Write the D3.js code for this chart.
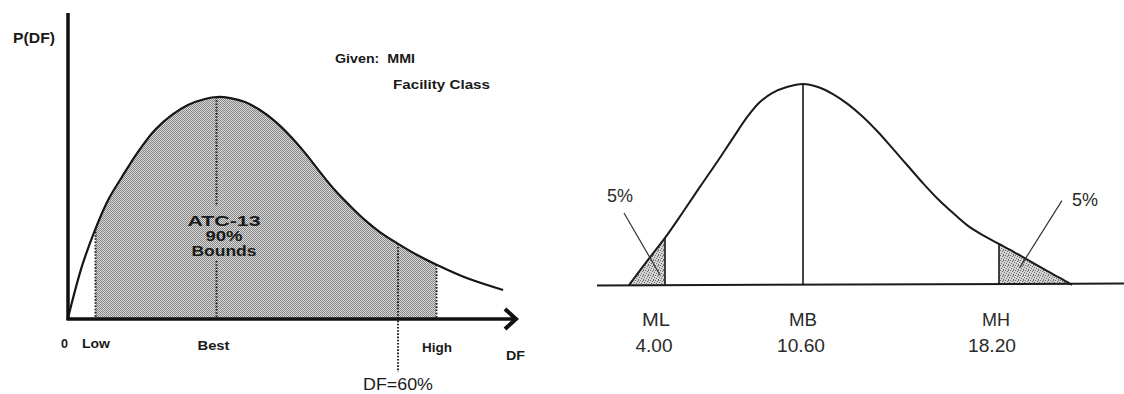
<!DOCTYPE html>
<html><head><meta charset="utf-8">
<script src="https://cdn.jsdelivr.net/npm/d3@7"></script>
<style>html,body{margin:0;padding:0;background:#fff;}svg{display:block;}</style>
</head><body>
<svg id="chart" width="1124" height="394"></svg>
<script>
// ---------- Left panel data: ATC-13 damage-factor density (schematic) ----------
const leftDF = [0, 2.5, 4.9, 7.3, 9.8, 12.7, 15.8, 18.9, 21.8, 24.9, 27.1, 29.5, 32.2, 34.9, 37.6, 40.4, 43.1, 45.8, 48.5, 51.3, 54.0, 56.7, 59.8, 63.5, 67.1, 72.5, 79.1];
const leftP  = [0, 0.231, 0.398, 0.534, 0.638, 0.751, 0.851, 0.919, 0.964, 0.991, 1.0, 0.995, 0.977, 0.941, 0.891, 0.824, 0.747, 0.661, 0.579, 0.507, 0.443, 0.389, 0.339, 0.285, 0.240, 0.181, 0.127];
const leftMarks = [
  {key: "low",  df: 5,  label: "Low"},
  {key: "best", df: 27, label: "Best"},
  {key: "df60", df: 60, label: "DF=60%"},
  {key: "high", df: 67, label: "High"}
];
const leftCenterText = ["ATC-13", "90%", "Bounds"];
const leftGiven = ["Given:  MMI", "Facility Class"];

// ---------- Right panel data: schematic density with 5% tails ----------
const rightM = [2.28, 3.14, 4.0, 4.86, 5.67, 6.49, 7.25, 7.97, 8.54, 9.12, 9.83, 10.6, 11.18, 11.76, 12.34, 12.93, 13.51, 14.09, 14.67, 15.25, 15.83, 16.42, 17.0, 17.62, 18.2, 18.78, 19.40, 20.06, 20.56, 21.03];
const rightP = [0, 0.119, 0.234, 0.363, 0.488, 0.612, 0.731, 0.841, 0.910, 0.955, 0.985, 1.0, 0.985, 0.950, 0.900, 0.836, 0.761, 0.677, 0.592, 0.507, 0.428, 0.358, 0.294, 0.244, 0.204, 0.164, 0.119, 0.070, 0.035, 0.0];
const rightMarks = [
  {name: "ML", value: 4.00, text: "4.00"},
  {name: "MB", value: 10.60, text: "10.60"},
  {name: "MH", value: 18.20, text: "18.20"}
];
const tailPct = ["5%", "5%"];

// ---------- setup ----------
const svg = d3.select("#chart");
const defs = svg.append("defs");

const pat1 = defs.append("pattern").attr("id", "stipple").attr("patternUnits", "userSpaceOnUse")
  .attr("width", 2).attr("height", 2);
pat1.append("rect").attr("width", 2).attr("height", 2).attr("fill", "#dadada");
pat1.append("rect").attr("width", 1).attr("height", 1).attr("fill", "#858585");
pat1.append("rect").attr("x", 1).attr("y", 1).attr("width", 1).attr("height", 1).attr("fill", "#858585");

const pat2 = defs.append("pattern").attr("id", "speckle").attr("patternUnits", "userSpaceOnUse")
  .attr("width", 5).attr("height", 5);
pat2.append("rect").attr("width", 5).attr("height", 5).attr("fill", "#d4d4d4");
[[0,0],[2,1],[4,2],[1,3],[3,4],[3,0]].forEach(([x,y]) =>
  pat2.append("rect").attr("x", x).attr("y", y).attr("width", 1).attr("height", 1).attr("fill", "#6e6e6e"));

function yAtX(pathNode, x) {
  const L = pathNode.getTotalLength();
  let lo = 0, hi = L;
  for (let i = 0; i < 40; i++) {
    const mid = (lo + hi) / 2;
    if (pathNode.getPointAtLength(mid).x < x) lo = mid; else hi = mid;
  }
  return pathNode.getPointAtLength((lo + hi) / 2).y;
}

const FONT = "'Liberation Sans', Arial, Helvetica, sans-serif";
const INK = "#1a1a1a";

// ================= LEFT PANEL =================
const xL = d3.scaleLinear().domain([0, 60]).range([68, 398]);
const yL = d3.scaleLinear().domain([0, 1]).range([318, 97]);
const leftData = leftDF.map((d, i) => ({x: d, y: leftP[i]}));
const gL = svg.append("g");
const curveType = d3.curveCatmullRom.alpha(0.5);

const lineL = d3.line().x(d => xL(d.x)).y(d => yL(d.y)).curve(curveType);
const areaL = d3.area().x(d => xL(d.x)).y0(yL(0)).y1(d => yL(d.y)).curve(curveType);

const low = leftMarks.find(m => m.key === "low").df;
const high = leftMarks.find(m => m.key === "high").df;
defs.append("clipPath").attr("id", "boundsClip").append("rect")
  .attr("x", xL(low)).attr("y", 0).attr("width", xL(high) - xL(low)).attr("height", yL(0));
gL.append("path").datum(leftData).attr("d", areaL).attr("fill", "url(#stipple)")
  .attr("clip-path", "url(#boundsClip)");

const curveL = gL.append("path").datum(leftData).attr("d", lineL)
  .attr("fill", "none").attr("stroke", "#151515").attr("stroke-width", 2.2);

function dotted(x, y1, y2) {
  gL.append("line").attr("x1", x).attr("x2", x).attr("y1", y1).attr("y2", y2)
    .attr("stroke", "#222").attr("stroke-width", 2).attr("stroke-dasharray", "1.6,1.6");
}
leftMarks.forEach(m => {
  const x = xL(m.df);
  const yTop = yAtX(curveL.node(), x);
  if (m.key === "best") { dotted(x, yTop, 206); dotted(x, 261, yL(0)); }
  else if (m.key === "df60") dotted(x, yTop, 372);
  else dotted(x, yTop, yL(0));
});

// axes
gL.append("line").attr("x1", xL(0)).attr("x2", xL(0)).attr("y1", 13).attr("y2", yL(0) + 2)
  .attr("stroke", "#111").attr("stroke-width", 3.5);
gL.append("line").attr("x1", xL(0) - 1.5).attr("x2", 515).attr("y1", yL(0) + 1).attr("y2", yL(0) + 1)
  .attr("stroke", "#111").attr("stroke-width", 3.5);
gL.append("path").attr("d", `M505,309 L516,${yL(0) + 1} L505,329`)
  .attr("fill", "none").attr("stroke", "#111").attr("stroke-width", 4);

function btext(x, y, t, size, len, anchor) {
  const el = gL.append("text").attr("x", x).attr("y", y).text(t)
    .attr("font-family", FONT).attr("font-weight", "bold").attr("font-size", size)
    .attr("fill", INK).style("white-space", "pre");
  if (anchor) el.attr("text-anchor", anchor);
  if (len) el.attr("textLength", len).attr("lengthAdjust", "spacingAndGlyphs");
  return el;
}
btext(13, 43, "P(DF)", 14, 42);
btext(335, 63, leftGiven[0], 12, 80);
btext(393, 89, leftGiven[1], 12, 97);

[{t: leftCenterText[0], y: 226, w: 73}, {t: leftCenterText[1], y: 241, w: 37}, {t: leftCenterText[2], y: 256, w: 65}]
  .forEach(c => btext(224, c.y, c.t, 14, c.w, "middle"));

btext(61, 348, "0", 12.5, 7);
btext(82, 348, leftMarks[0].label, 12.5, 28);
btext(xL(leftMarks[1].df) - 19, 350, leftMarks[1].label, 12.5, 32);
btext(422, 352, leftMarks[3].label, 12.5, 30);
btext(506, 360, "DF", 13.5, 19);
gL.append("text").attr("x", 363).attr("y", 390).text(leftMarks[2].label)
  .attr("font-family", FONT).attr("font-size", 16).attr("fill", INK)
  .attr("textLength", 70).attr("lengthAdjust", "spacingAndGlyphs");

// ================= RIGHT PANEL =================
const xR = d3.scaleLinear().domain(rightMarks.map(m => m.value)).range([665, 803, 999]);
const yR = d3.scaleLinear().domain([0, 1]).range([285, 84]);
const rightData = rightM.map((m, i) => ({x: m, y: rightP[i]}));
const gR = svg.append("g");
const lineR = d3.line().x(d => xR(d.x)).y(d => yR(d.y)).curve(curveType);
const areaR = d3.area().x(d => xR(d.x)).y0(yR(0)).y1(d => yR(d.y)).curve(curveType);

const mL = rightMarks[0].value, mH = rightMarks[2].value;
defs.append("clipPath").attr("id", "tailL").append("rect")
  .attr("x", 0).attr("y", 0).attr("width", xR(mL)).attr("height", yR(0));
defs.append("clipPath").attr("id", "tailH").append("rect")
  .attr("x", xR(mH)).attr("y", 0).attr("width", 1124 - xR(mH)).attr("height", yR(0));
gR.append("path").datum(rightData).attr("d", areaR).attr("fill", "url(#speckle)").attr("clip-path", "url(#tailL)");
gR.append("path").datum(rightData).attr("d", areaR).attr("fill", "url(#speckle)").attr("clip-path", "url(#tailH)");

const curveR = gR.append("path").datum(rightData).attr("d", lineR)
  .attr("fill", "none").attr("stroke", INK).attr("stroke-width", 2);

gR.append("line").attr("x1", 597).attr("x2", 1124).attr("y1", yR(0) + 0.5).attr("y2", yR(0) - 1.5)
  .attr("stroke", INK).attr("stroke-width", 2);

rightMarks.forEach(m => {
  const x = xR(m.value);
  gR.append("line").attr("x1", x).attr("x2", x).attr("y1", yAtX(curveR.node(), x)).attr("y2", yR(0))
    .attr("stroke", INK).attr("stroke-width", 1.6);
});

rightMarks.forEach(m => {
  const dx1 = m.name === "ML" ? -9 : m.name === "MH" ? -3 : 0;
  const dx2 = m.name === "ML" ? -11 : m.name === "MH" ? -7 : -2;
  gR.append("text").attr("x", xR(m.value) + dx1).attr("y", 326).attr("text-anchor", "middle").text(m.name)
    .attr("font-family", FONT).attr("font-size", 19).attr("fill", "#2a2a2a")
    .attr("textLength", 28).attr("lengthAdjust", "spacingAndGlyphs");
  gR.append("text").attr("x", xR(m.value) + dx2).attr("y", 352).attr("text-anchor", "middle").text(m.text)
    .attr("font-family", FONT).attr("font-size", 19).attr("fill", "#2a2a2a")
    .attr("textLength", m.text.length === 4 ? 37 : 48).attr("lengthAdjust", "spacingAndGlyphs");
});

gR.append("text").attr("x", 607).attr("y", 202).text(tailPct[0])
  .attr("font-family", FONT).attr("font-size", 18).attr("fill", "#2a2a2a");
gR.append("line").attr("x1", xR(2.04)).attr("y1", yR(0.358)).attr("x2", xR(3.76)).attr("y2", yR(0.05))
  .attr("stroke", "#333").attr("stroke-width", 1.2);
gR.append("text").attr("x", 1072).attr("y", 206).text(tailPct[1])
  .attr("font-family", FONT).attr("font-size", 18).attr("fill", "#2a2a2a");
gR.append("line").attr("x1", xR(20.64)).attr("y1", yR(0.42)).attr("x2", xR(19.0)).attr("y2", yR(0.085))
  .attr("stroke", "#333").attr("stroke-width", 1.2);
</script>
</body></html>
